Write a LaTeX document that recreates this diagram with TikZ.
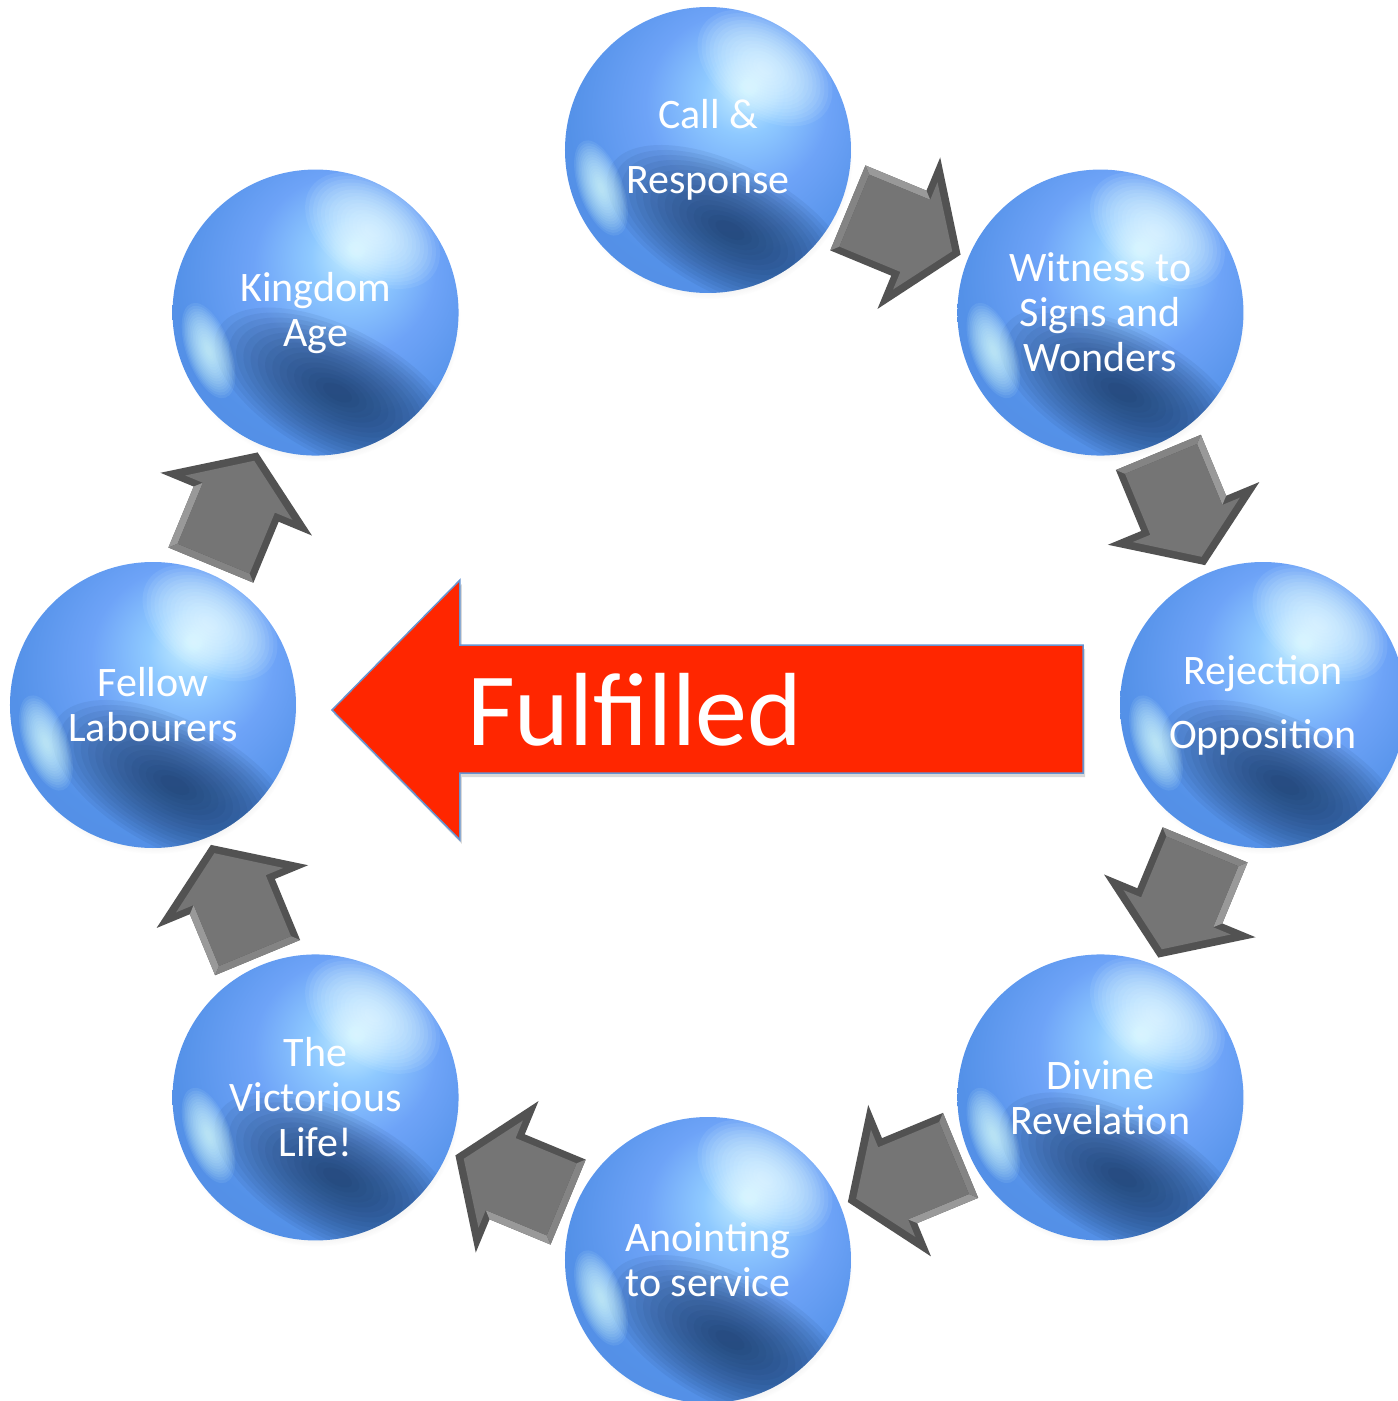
\documentclass[tikz,border=0pt]{standalone}
\usepackage{fontspec}
\setmainfont{Carlito}
\usetikzlibrary{calc,shadows}

\pgfdeclareradialshading{spherebase}{\pgfpoint{7bp}{11bp}}{%
 rgb(0bp)=(0.8,0.95,1);
 rgb(7bp)=(0.56,0.79,1);
 rgb(16bp)=(0.43,0.64,0.97);
 rgb(28bp)=(0.33,0.57,0.91);
 rgb(60bp)=(0.3,0.5,0.85)}

\definecolor{sphdark}{rgb}{0.08,0.2,0.36}
\definecolor{sphhigh}{rgb}{0.93,1,1}
\definecolor{sphrefl}{rgb}{0.85,1,1}
\definecolor{arrface}{rgb}{0.46,0.46,0.46}
\definecolor{arrdark}{rgb}{0.32,0.32,0.32}
\definecolor{arrlight}{rgb}{0.6,0.6,0.6}
\definecolor{fulred}{rgb}{1,0.15,0}
\definecolor{fulborder}{rgb}{0.4,0.58,0.82}

\newcommand{\softblob}[7]{% color, x, y, rx, ry, rot, opacity
  \foreach \k in {1,...,16}{%
    \pgfmathsetmacro\blobrx{#4*(1.06-\k/17)}%
    \pgfmathsetmacro\blobry{#5*(1.06-\k/17)}%
    \pgfmathsetmacro\blobangb{#6+90}%
    \begin{pgfscope}%
      \pgfsetfillcolor{#1}\pgfsetfillopacity{#7}%
      \pgfpathellipse{\pgfpointadd{\pgfpointanchor{path picture bounding box}{center}}{\pgfpoint{#2pt}{#3pt}}}%
        {\pgfpointpolar{#6}{\blobrx pt}}{\pgfpointpolar{\blobangb}{\blobry pt}}%
      \pgfusepath{fill}%
    \end{pgfscope}}}

\tikzset{
  sphere/.style={circle, minimum size=286pt, inner sep=0pt, text=white,
    align=center, font=\fontsize{42}{45}\selectfont,
    shade, shading=spherebase,
    circular drop shadow={shadow xshift=2pt, shadow yshift=-6pt, opacity=0.25, shadow scale=1.0},
    path picture={
        \softblob{sphdark}{22}{-80}{135}{64}{-28}{0.075}
        \softblob{sphhigh}{57}{82}{75}{48}{-35}{0.08}
        \softblob{sphrefl}{-107}{-38}{22}{50}{20}{0.085}
    }},
  bigarrow/.style={fill=fulred, draw=fulborder, line width=1.5pt,
    drop shadow={shadow xshift=2pt, shadow yshift=-4pt, opacity=0.3}},
  bigtext/.style={text=white, font=\fontsize{104}{110}\selectfont, inner sep=0pt},
}

\newcommand{\grayarrowbetween}[3]{%
  \begin{scope}[shift={($(#1)!0.5!(#2)$)}, rotate=#3]
    \fill[arrdark] (-61,-46) -- (5,-46) -- (5,-82) -- (61,0) -- (5,82) -- (5,46) -- (-61,46) -- cycle;
    \fill[arrlight] (-61,46) -- (5,46) -- (12,39) -- (-54,39) -- cycle;
    \fill[arrlight!70!arrdark] (-61,-46) -- (-61,46) -- (-54,39) -- (-54,-39) -- cycle;
    \fill[arrface] (-54,-39) -- (12,-39) -- (12,-58) -- (52,0) -- (12,58) -- (12,39) -- (-54,39) -- cycle;
  \end{scope}}

\begin{document}
\begin{tikzpicture}[x=1pt, y=1pt]
  \useasboundingbox (-708,-696) rectangle (690,705);

  \node[sphere] (call) at (90:555) {Call \&\\[20pt]Response};
  \node[sphere] (wit)  at (45:555) {Witness to\\Signs and\\Wonders};
  \node[sphere] (rej)  at (0:555) {Rejection\\[19pt]Opposition};
  \node[sphere] (div)  at (-45:555) {Divine\\Revelation};
  \node[sphere] (ano)  at (-90:555) {Anointing\\to service};
  \node[sphere] (vic)  at (-135:555) {The\\Victorious\\Life!};
  \node[sphere] (fel)  at (180:555) {Fellow\\Labourers};
  \node[sphere] (kin)  at (135:555) {Kingdom\\Age};

  \grayarrowbetween{call}{wit}{-22.5}
  \grayarrowbetween{wit}{rej}{-67.5}
  \grayarrowbetween{rej}{div}{-112.5}
  \grayarrowbetween{div}{ano}{-157.5}
  \grayarrowbetween{ano}{vic}{157.5}
  \grayarrowbetween{vic}{fel}{112.5}
  \grayarrowbetween{fel}{kin}{67.5}

  \draw[bigarrow] (-376,-5) -- (-248,125) -- (-248,60) -- (375,60) -- (375,-68)
    -- (-248,-68) -- (-248,-135) -- cycle;
  \node[bigtext, anchor=base west] (fulfilled) at (-241,-40) {Fulfilled};
\end{tikzpicture}
\end{document}
